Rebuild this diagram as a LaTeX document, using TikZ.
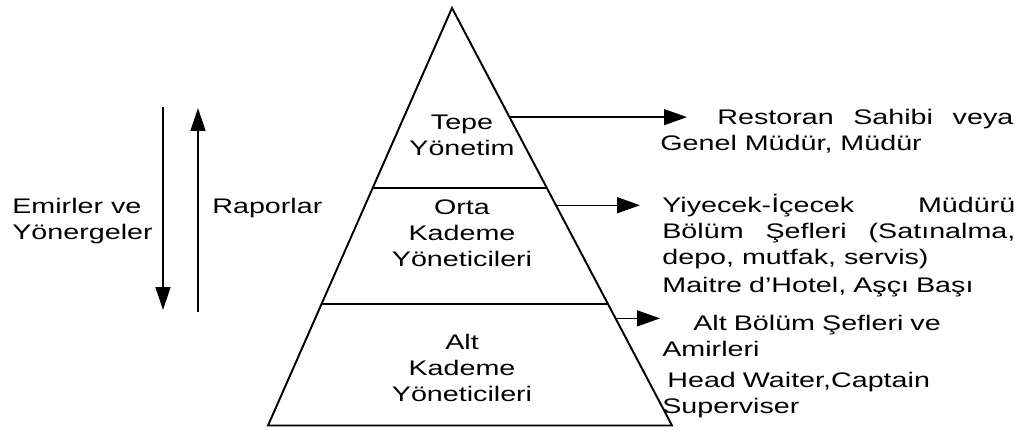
\documentclass[tikz,border=0pt]{standalone}
\usepackage{fontspec}
\setmainfont{Liberation Sans}[FakeStretch=1.36]
\usepackage{tikz}
\usetikzlibrary{arrows.meta, positioning, calc}
\setlength{\parindent}{0pt}
\newcommand{\pyrfont}{\fontsize{12}{14.8}\selectfont}
\tikzset{
    % Pyramid
    pyrline/.style={line width=1.1pt, black},
    lvltext/.style={align=center, font=\pyrfont, inner sep=0pt},
    % Left side
    sidelbl/.style={align=left, font=\pyrfont, inner sep=0pt},
    harrow/.style={-{Triangle[length=0.46cm, width=0.3cm]}, line width=0.75pt},
    % Right side
    infotext/.style={anchor=north west, text width=7.06cm, align=#1,
                font=\pyrfont, inner sep=0pt},
    infotext/.default=left,
    parrow/.style={-{Triangle[length=0.46cm, width=0.32cm]}, line width=0.75pt},
}
\begin{document}
\begin{tikzpicture}
\useasboundingbox (0,0) rectangle (20.62,8.6);

% Pyramid
\coordinate (apex) at (9.04,8.44);
\coordinate (bl) at (5.36,0.09);
\coordinate (br) at (13.44,0.09);
\draw[pyrline] (apex) -- (bl) -- (br) -- cycle;
\draw[pyrline] ($(bl)!0.568!(apex)$) -- ($(br)!0.568!(apex)$);
\draw[pyrline] ($(bl)!0.290!(apex)$) -- ($(br)!0.290!(apex)$);

% Levels
\node[lvltext] (tepe) at (9.24,5.89) {Tepe\\Yönetim};
\node[lvltext] (orta) at (9.24,3.93) {Orta\\Kademe\\Yöneticileri};
\node[lvltext] (alt)  at (9.24,1.25) {Alt\\Kademe\\Yöneticileri};

% Orders down, reports up
\node[sidelbl, anchor=west] (emir)  at (0.24,4.17) {Emirler ve\\Yönergeler};
\node[sidelbl, anchor=west] (rapor) at (4.24,4.44) {Raporlar};
\coordinate (emirtop) at (3.26,6.46);
\coordinate (emirbot) at (3.26,2.40);
\coordinate (raporbot) at (3.96,2.36);
\coordinate (raportop) at (3.96,6.44);
\draw[harrow] (emirtop) -- (emirbot);
\draw[harrow] (raporbot) -- (raportop);

% Who is who
\node[infotext=justify] (tepeinfo) at (13.2,6.49)
    {\strut\hspace*{1.14cm}Restoran Sahibi veya\linebreak Genel Müdür, Müdür};
\node[infotext=justify] (ortainfo) at (13.24,4.73)
    {\strut Yiyecek-İçecek Müdürü\linebreak Bölüm Şefleri (Satınalma,\linebreak depo, mutfak, servis)};
\node[infotext] (maitre) at (13.24,3.13) {\strut Maitre d’Hotel, Aşçı Başı};
\node[infotext] (altinfo) at (13.24,2.37)
    {\strut\hspace*{0.62cm}Alt Bölüm Şefleri ve\\Amirleri};
\node[infotext] (headinfo) at (13.24,1.23)
    {\strut\hspace*{0.1cm}Head Waiter,Captain\\Superviser};

% Pointers
\coordinate (tepeedge) at ($(br)!0.7386!(apex)$);
\coordinate (ortaedge) at ($(br)!0.5276!(apex)$);
\coordinate (altedge)  at ($(br)!0.2566!(apex)$);
\coordinate (tepetip) at (tepeedge -| 13.74,0);
\coordinate (ortatip) at (ortaedge -| 12.8,0);
\coordinate (alttip)  at (altedge -| 13.2,0);
\draw[parrow] (tepeedge) -- (tepetip);
\draw[parrow] (ortaedge) -- (ortatip);
\draw[parrow] (altedge) -- (alttip);

\end{tikzpicture}
\end{document}
